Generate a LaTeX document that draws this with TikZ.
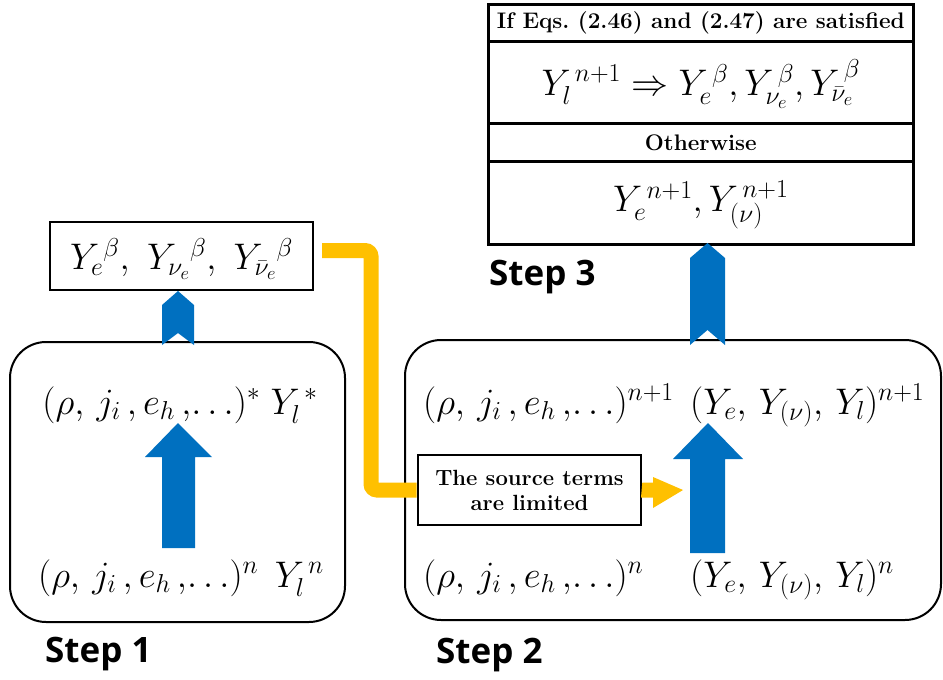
\RequirePackage{fix-cm}
\documentclass[tikz,border=0pt]{standalone}
\usepackage{amsmath}
\usepackage{fontspec}
\newfontfamily\stepfont{Open Sans}
\definecolor{myblue}{RGB}{0,112,192}
\definecolor{myorange}{RGB}{255,192,0}
\begin{document}
\begin{tikzpicture}[x=1pt,y=-1pt,
  mtext/.style={inner sep=0pt, font=\fontsize{37}{43}\selectfont},
  tablerow/.style={draw, line width=2.6pt, inner sep=0pt, minimum width=425pt, anchor=north west},
  plainbox/.style={draw, line width=2.6pt, inner sep=0pt},
  roundbox/.style={draw, line width=2pt, rounded corners=36pt},
  steplabel/.style={inner sep=0pt, anchor=west, font=\stepfont\bfseries\fontsize{35}{40}\selectfont},
  notetext/.style={font=\bfseries\fontsize{22.5}{26}\selectfont, align=center},
  orangeline/.style={draw=myorange, line width=15pt, rounded corners=6pt}
]
\useasboundingbox (0,0) rectangle (943,680);

% ---------- Step 3 table ----------
\node[tablerow, minimum height=37pt] (r1) at (487,3) {};
\node[tablerow, minimum height=82pt] (r2) at (487,40) {};
\node[tablerow, minimum height=38pt] (r3) at (487,122) {};
\node[tablerow, minimum height=83pt] (r4) at (487,160) {};
\node[notetext, inner sep=0pt] (t1) at (r1.center) {If Eqs.~(2.46) and (2.47) are satisfied};
\node[mtext] (t2) at ([yshift=-2pt]r2.center) {$Y_l^{\,n+1}\Rightarrow Y_e^{\,\beta},Y_{\nu_e}^{\,\beta},Y_{\bar{\nu}_e}^{\,\beta}$};
\node[notetext, inner sep=0pt] (t3) at (r3.center) {Otherwise};
\node[mtext] (t4) at ([yshift=-2pt]r4.center) {$Y_e^{\,n+1},Y_{(\nu)}^{\,n+1}$};
\node[steplabel] (s3) at (489,277) {Step 3};

% ---------- left result box ----------
\node[plainbox, minimum width=263pt, minimum height=68pt] (lb) at (181.5,256) {};
\node[mtext] (lbt) at ([yshift=-3pt]lb.center) {$Y_e{}^{\beta},\ Y_{\nu_e}{}^{\beta},\ Y_{\bar{\nu}_e}{}^{\beta}$};

% ---------- Step 1 ----------
\draw[roundbox] (10,342) rectangle (345,622);
\node[mtext, anchor=base] (s1top) at (180,414) {$(\rho,\, j_i\,, e_h\,,\!\ldots)^{*}\; Y_l^{\,*}$};
\node[mtext, anchor=base] (s1bot) at (181,587) {$(\rho,\, j_i\,, e_h\,,\!\ldots)^{n}\;\, Y_l^{\,n}$};
\node[steplabel] (s1) at (45,654) {Step 1};

% ---------- Step 2 ----------
\draw[roundbox] (405,340) rectangle (941,620);
\node[mtext, anchor=base west] (s2a) at (423,414) {$(\rho,\, j_i\,, e_h\,,\!\ldots)^{n+1}$};
\node[mtext, anchor=base west] (s2b) at (690,414) {$(Y_e,\,Y_{(\nu)},\,Y_l)^{n+1}$};
\node[mtext, anchor=base west] (s2c) at (423,587) {$(\rho,\, j_i\,, e_h\,,\!\ldots)^{n}$};
\node[mtext, anchor=base west] (s2d) at (690,587) {$(Y_e,\,Y_{(\nu)},\,Y_l)^{n}$};
\node[steplabel] (s2) at (436,655) {Step 2};

% source terms box
\node[plainbox, minimum width=223pt, minimum height=70pt, notetext, font=\bfseries\fontsize{22}{25}\selectfont] (src) at (529.5,490) {The source terms\\are limited};

% ---------- blue arrows ----------
\fill[myblue] (162,548) -- (162,457) -- (145,457) -- (178,423) -- (212,457) -- (195,457) -- (195,548) -- cycle;
\fill[myblue] (690,553) -- (690,459) -- (673,459) -- (708,423) -- (743,459) -- (725,459) -- (725,553) -- cycle;
\fill[myblue] (162,345) -- (162,305) -- (178,291) -- (194,305) -- (194,345) -- (178,333) -- cycle;
\fill[myblue] (690,345) -- (690,258) -- (707.5,243) -- (725,258) -- (725,345) -- (707.5,330) -- cycle;

% ---------- orange connectors ----------
\coordinate (ostart) at (322,250.5);
\draw[orangeline] (ostart) -- (371,250.5) -- (371,490) -- (src.west);
\coordinate (otip) at (683,490);
\fill[myorange] (src.east) ++(0,-7.5) -- (653,482.5) -- (653,477) -- (otip) -- (653,508) -- (653,497.5) -- (641,497.5) -- cycle;
\end{tikzpicture}
\end{document}
